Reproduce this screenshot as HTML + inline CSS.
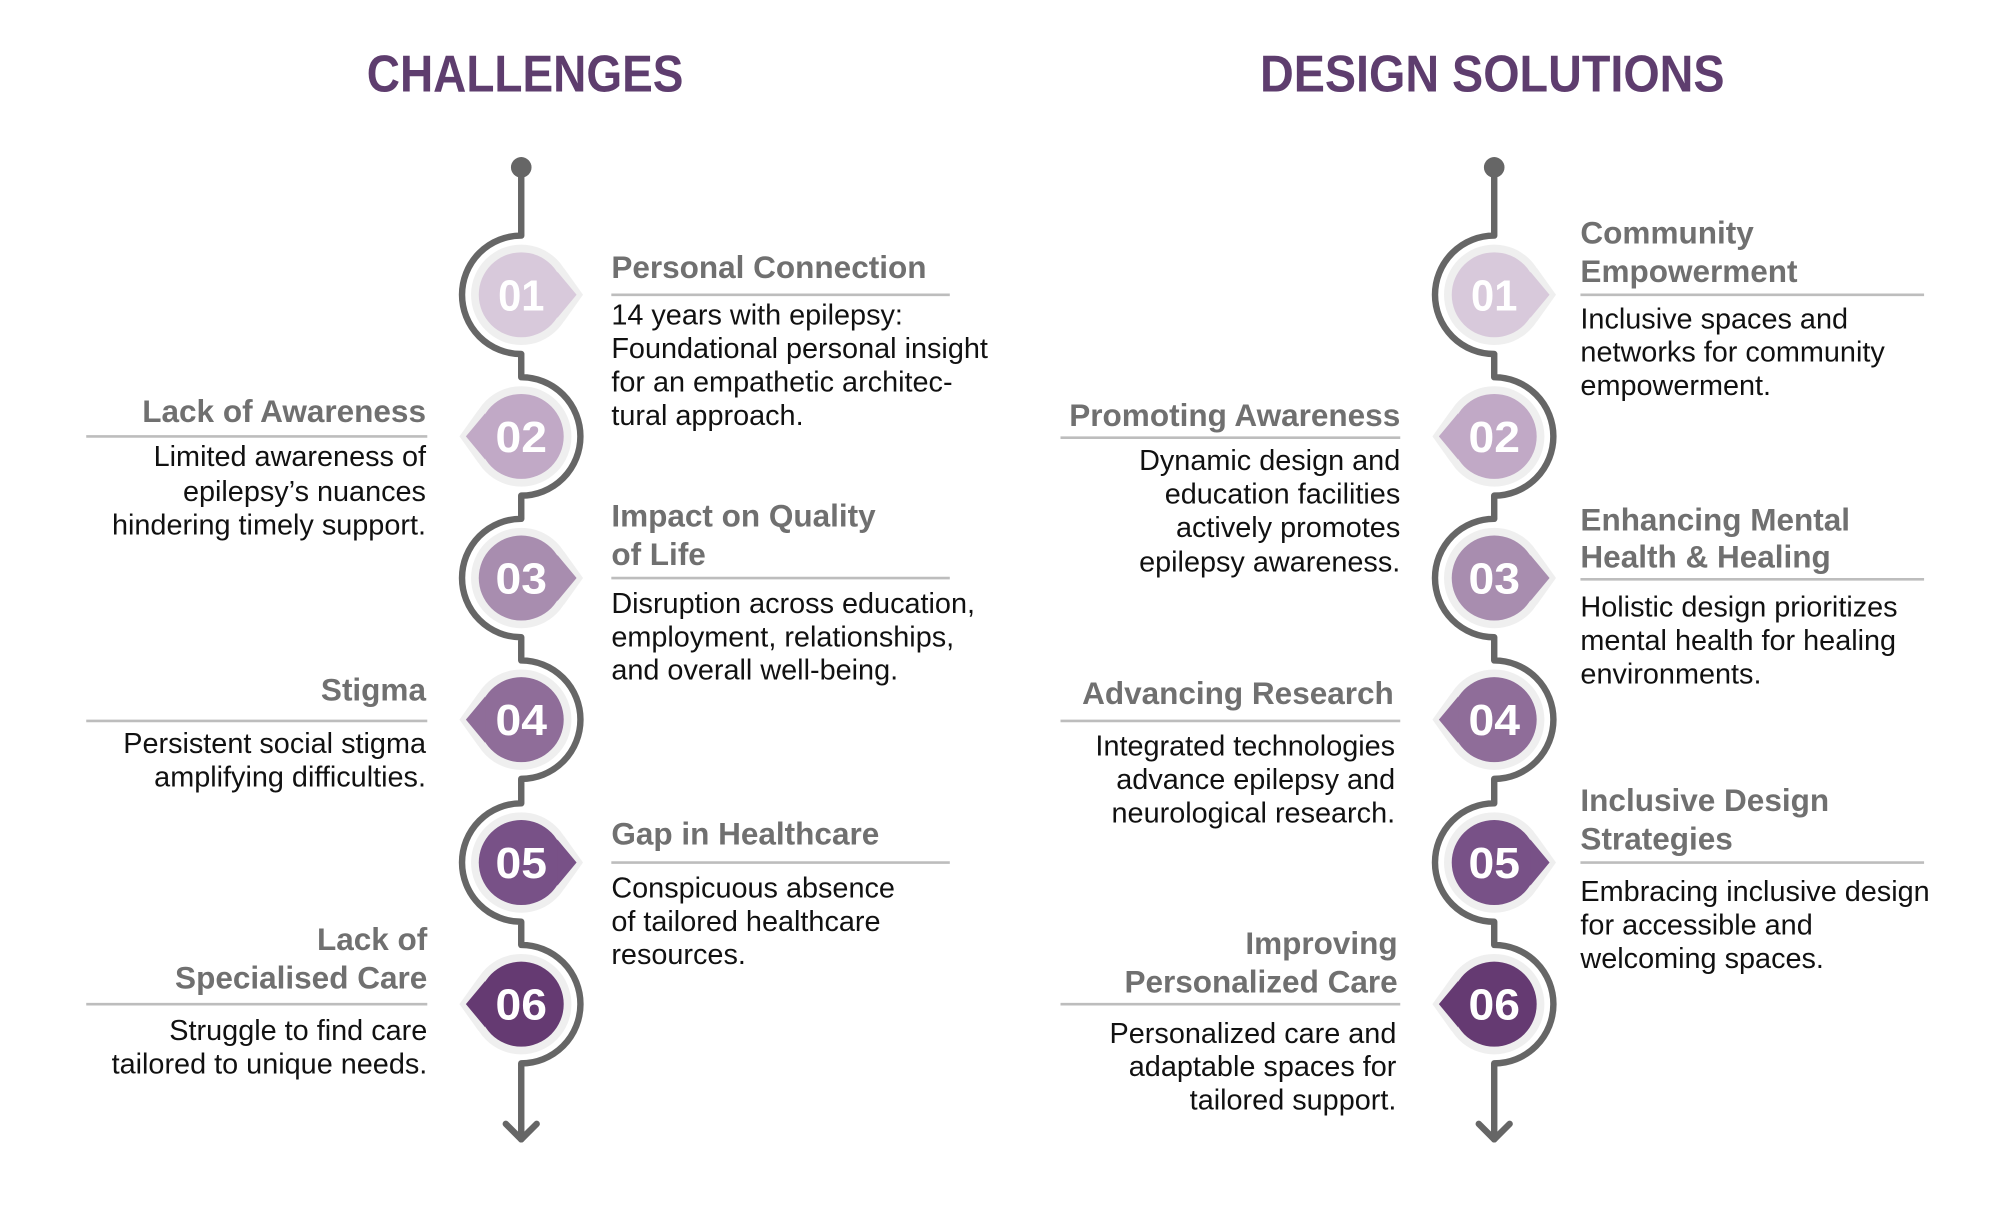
<!DOCTYPE html>
<html><head><meta charset="utf-8"><style>
html,body{margin:0;padding:0;background:#fff;}
svg{display:block;}
text{font-family:"Liberation Sans",Arial,sans-serif;}
.h{font-weight:bold;font-size:40px;fill:#5e3d6e;}
.t{font-weight:bold;font-size:24.5px;fill:#707070;}
.b{font-size:22.4px;fill:#111;}
.n{font-weight:bold;font-size:34px;fill:#fff;}
.r{text-anchor:end;}
.u{stroke:#bdbdbd;stroke-width:2;}
.sp{fill:none;stroke:#666;stroke-width:5;stroke-linejoin:round;stroke-linecap:round;}
</style></head><body>
<svg width="2000" height="1214" viewBox="0 0 1554 943" preserveAspectRatio="none" xmlns="http://www.w3.org/2000/svg">
<defs>
<g id="bR"><circle cx="0" cy="0" r="39" fill="#efefef"/><polygon points="33,-21 48,0 33,21" fill="#efefef"/></g>
<g id="bL"><circle cx="0" cy="0" r="39" fill="#efefef"/><polygon points="-33,-21 -48,0 -33,21" fill="#efefef"/></g>
</defs>

<text class="h" x="285" y="71" textLength="246" lengthAdjust="spacingAndGlyphs">CHALLENGES</text>
<text class="h" x="979" y="71" textLength="361" lengthAdjust="spacingAndGlyphs">DESIGN SOLUTIONS</text>

<g>
<circle cx="405" cy="130" r="8" fill="#666"/>
<path class="sp" d="M405,130 V183 A46,46 0 0 0 405,275 V293 A46,46 0 0 1 405,385 V403 A46,46 0 0 0 405,495 V513 A46,46 0 0 1 405,605 V624 A46,46 0 0 0 405,716 V734 A46,46 0 0 1 405,826 V885"/>
<polyline class="sp" points="393,873 405,885 417,873"/>
</g>
<g>
<circle cx="1161" cy="130" r="8" fill="#666"/>
<path class="sp" d="M1161,130 V183 A46,46 0 0 0 1161,275 V293 A46,46 0 0 1 1161,385 V403 A46,46 0 0 0 1161,495 V513 A46,46 0 0 1 1161,605 V624 A46,46 0 0 0 1161,716 V734 A46,46 0 0 1 1161,826 V885"/>
<polyline class="sp" points="1149,873 1161,885 1173,873"/>
</g>

<g transform="translate(405,229)"><use href="#bR"/><circle r="33" fill="#d8c9db"/><polygon points="28,-18 43,0 28,18" fill="#d8c9db"/><text class="n" x="-18" y="12" textLength="36" lengthAdjust="spacingAndGlyphs">01</text></g>
<g transform="translate(405,339)"><use href="#bL"/><circle r="33" fill="#c1a9c6"/><polygon points="-28,-18 -43,0 -28,18" fill="#c1a9c6"/><text class="n" x="-20" y="12" textLength="40" lengthAdjust="spacingAndGlyphs">02</text></g>
<g transform="translate(405,449)"><use href="#bR"/><circle r="33" fill="#a88daf"/><polygon points="28,-18 43,0 28,18" fill="#a88daf"/><text class="n" x="-20" y="12" textLength="40" lengthAdjust="spacingAndGlyphs">03</text></g>
<g transform="translate(405,559)"><use href="#bL"/><circle r="33" fill="#8f6d99"/><polygon points="-28,-18 -43,0 -28,18" fill="#8f6d99"/><text class="n" x="-20" y="12" textLength="40" lengthAdjust="spacingAndGlyphs">04</text></g>
<g transform="translate(405,670)"><use href="#bR"/><circle r="33" fill="#785187"/><polygon points="28,-18 43,0 28,18" fill="#785187"/><text class="n" x="-20" y="12" textLength="40" lengthAdjust="spacingAndGlyphs">05</text></g>
<g transform="translate(405,780)"><use href="#bL"/><circle r="33" fill="#653a72"/><polygon points="-28,-18 -43,0 -28,18" fill="#653a72"/><text class="n" x="-20" y="12" textLength="40" lengthAdjust="spacingAndGlyphs">06</text></g>

<g transform="translate(1161,229)"><use href="#bR"/><circle r="33" fill="#d8c9db"/><polygon points="28,-18 43,0 28,18" fill="#d8c9db"/><text class="n" x="-18" y="12" textLength="36" lengthAdjust="spacingAndGlyphs">01</text></g>
<g transform="translate(1161,339)"><use href="#bL"/><circle r="33" fill="#c1a9c6"/><polygon points="-28,-18 -43,0 -28,18" fill="#c1a9c6"/><text class="n" x="-20" y="12" textLength="40" lengthAdjust="spacingAndGlyphs">02</text></g>
<g transform="translate(1161,449)"><use href="#bR"/><circle r="33" fill="#a88daf"/><polygon points="28,-18 43,0 28,18" fill="#a88daf"/><text class="n" x="-20" y="12" textLength="40" lengthAdjust="spacingAndGlyphs">03</text></g>
<g transform="translate(1161,559)"><use href="#bL"/><circle r="33" fill="#8f6d99"/><polygon points="-28,-18 -43,0 -28,18" fill="#8f6d99"/><text class="n" x="-20" y="12" textLength="40" lengthAdjust="spacingAndGlyphs">04</text></g>
<g transform="translate(1161,670)"><use href="#bR"/><circle r="33" fill="#785187"/><polygon points="28,-18 43,0 28,18" fill="#785187"/><text class="n" x="-20" y="12" textLength="40" lengthAdjust="spacingAndGlyphs">05</text></g>
<g transform="translate(1161,780)"><use href="#bL"/><circle r="33" fill="#653a72"/><polygon points="-28,-18 -43,0 -28,18" fill="#653a72"/><text class="n" x="-20" y="12" textLength="40" lengthAdjust="spacingAndGlyphs">06</text></g>

<text class="t" x="475" y="216">Personal Connection</text>
<line class="u" x1="475" y1="229" x2="738" y2="229"/>
<text class="b" x="475" y="252">14 years with epilepsy:</text>
<text class="b" x="475" y="278">Foundational personal insight</text>
<text class="b" x="475" y="304">for an empathetic architec-</text>
<text class="b" x="475" y="330">tural approach.</text>

<text class="t r" x="331" y="328">Lack of Awareness</text>
<line class="u" x1="67" y1="339" x2="332" y2="339"/>
<text class="b r" x="331" y="362">Limited awareness of</text>
<text class="b r" x="331" y="389">epilepsy’s nuances</text>
<text class="b r" x="331" y="415">hindering timely support.</text>

<text class="t" x="475" y="409">Impact on Quality</text>
<text class="t" x="475" y="439">of Life</text>
<line class="u" x1="475" y1="449" x2="738" y2="449"/>
<text class="b" x="475" y="476">Disruption across education,</text>
<text class="b" x="475" y="502">employment, relationships,</text>
<text class="b" x="475" y="528">and overall well-being.</text>

<text class="t r" x="331" y="544">Stigma</text>
<line class="u" x1="67" y1="560" x2="332" y2="560"/>
<text class="b r" x="331" y="585">Persistent social stigma</text>
<text class="b r" x="331" y="611">amplifying difficulties.</text>

<text class="t" x="475" y="656">Gap in Healthcare</text>
<line class="u" x1="475" y1="670" x2="738" y2="670"/>
<text class="b" x="475" y="697">Conspicuous absence</text>
<text class="b" x="475" y="723">of tailored healthcare</text>
<text class="b" x="475" y="749">resources.</text>

<text class="t r" x="332" y="738">Lack of</text>
<text class="t r" x="332" y="768">Specialised Care</text>
<line class="u" x1="67" y1="780" x2="332" y2="780"/>
<text class="b r" x="332" y="808">Struggle to find care</text>
<text class="b r" x="332" y="834">tailored to unique needs.</text>

<text class="t" x="1228" y="189">Community</text>
<text class="t" x="1228" y="219">Empowerment</text>
<line class="u" x1="1228" y1="229" x2="1495" y2="229"/>
<text class="b" x="1228" y="255">Inclusive spaces and</text>
<text class="b" x="1228" y="281">networks for community</text>
<text class="b" x="1228" y="307">empowerment.</text>

<text class="t r" x="1088" y="331">Promoting Awareness</text>
<line class="u" x1="824" y1="340" x2="1088" y2="340"/>
<text class="b r" x="1088" y="365">Dynamic design and</text>
<text class="b r" x="1088" y="391">education facilities</text>
<text class="b r" x="1088" y="417">actively promotes</text>
<text class="b r" x="1088" y="444">epilepsy awareness.</text>

<text class="t" x="1228" y="412">Enhancing Mental</text>
<text class="t" x="1228" y="441">Health &amp; Healing</text>
<line class="u" x1="1228" y1="450" x2="1495" y2="450"/>
<text class="b" x="1228" y="479">Holistic design prioritizes</text>
<text class="b" x="1228" y="505">mental health for healing</text>
<text class="b" x="1228" y="531">environments.</text>

<text class="t r" x="1083" y="547">Advancing Research</text>
<line class="u" x1="824" y1="560" x2="1088" y2="560"/>
<text class="b r" x="1084" y="587">Integrated technologies</text>
<text class="b r" x="1084" y="613">advance epilepsy and</text>
<text class="b r" x="1084" y="639">neurological research.</text>

<text class="t" x="1228" y="630">Inclusive Design</text>
<text class="t" x="1228" y="660">Strategies</text>
<line class="u" x1="1228" y1="670" x2="1495" y2="670"/>
<text class="b" x="1228" y="700">Embracing inclusive design</text>
<text class="b" x="1228" y="726">for accessible and</text>
<text class="b" x="1228" y="752">welcoming spaces.</text>

<text class="t r" x="1086" y="741">Improving</text>
<text class="t r" x="1086" y="771">Personalized Care</text>
<line class="u" x1="824" y1="780" x2="1088" y2="780"/>
<text class="b r" x="1085" y="810">Personalized care and</text>
<text class="b r" x="1085" y="836">adaptable spaces for</text>
<text class="b r" x="1085" y="862">tailored support.</text>
</svg>
</body></html>
